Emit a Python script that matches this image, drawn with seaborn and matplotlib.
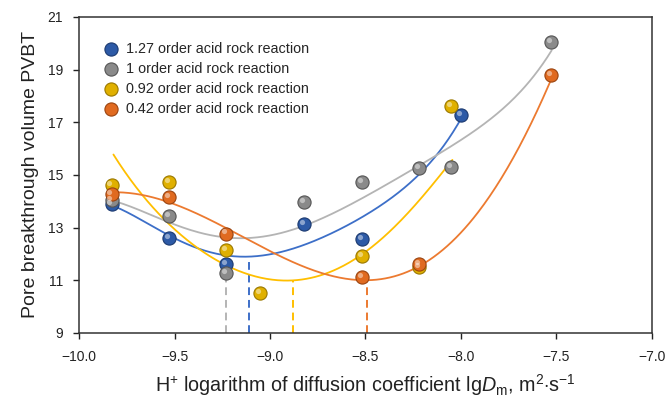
import numpy as np
import pandas as pd
import matplotlib
matplotlib.use("Agg")
import matplotlib.pyplot as plt
import seaborn as sns

# ---- data ----
series_names = ["1.27 order acid rock reaction", "1 order acid rock reaction",
                "0.92 order acid rock reaction", "0.42 order acid rock reaction"]

x_127 = [-9.83, -9.53, -9.23, -8.82, -8.52, -8.00]
y_127 = [13.88, 12.61, 11.61, 13.13, 12.55, 17.27]

x_100 = [-9.83, -9.53, -9.23, -8.82, -8.52, -8.22, -8.05, -7.53]
y_100 = [14.05, 13.42, 11.28, 13.97, 14.73, 15.26, 15.30, 20.05]

x_092 = [-9.83, -9.53, -9.23, -9.05, -8.52, -8.22, -8.05]
y_092 = [14.61, 14.71, 12.14, 10.52, 11.90, 11.50, 17.60]

x_042 = [-9.83, -9.53, -9.23, -8.52, -8.22, -7.53]
y_042 = [14.27, 14.17, 12.77, 11.13, 11.60, 18.80]

# trend curves (points along each drawn curve)
cx_127 = [-9.83, -9.65, -9.47, -9.23, -9.05, -8.95, -8.83, -8.48, -8.21, -8.07, -8.005]
cy_127 = [13.85, 13.18, 12.46, 12.02, 11.91, 11.99, 12.33, 13.60, 15.06, 16.30, 17.08]

cx_100 = [-9.83, -9.47, -9.23, -8.95, -8.83, -8.48, -8.21, -8.04, -7.80, -7.62, -7.525]
cy_100 = [14.04, 12.97, 12.71, 12.80, 12.97, 14.30, 15.25, 16.30, 17.40, 18.60, 19.81]

cx_092 = [-9.82, -9.66, -9.47, -9.23, -8.95, -8.88, -8.69, -8.49, -8.30, -8.13, -8.045]
cy_092 = [15.75, 14.23, 12.65, 11.61, 11.00, 10.98, 11.32, 12.08, 13.41, 14.80, 15.56]

cx_042 = [-9.83, -9.47, -9.23, -8.95, -8.83, -8.48, -8.21, -8.13, -7.95, -7.80, -7.62, -7.525]
cy_042 = [14.32, 13.92, 12.80, 11.95, 11.57, 11.13, 11.32, 12.08, 13.09, 14.93, 17.08, 18.67]

# minimum markers (dashed drop lines)
min_x = [-9.11, -9.23, -8.88, -8.49]
min_y = [11.79, 11.10, 11.00, 11.08]

x_ticks = [-10.0, -9.5, -9.0, -8.5, -8.0, -7.5, -7.0]
y_ticks = [9, 11, 13, 15, 17, 19, 21]

point_colors = ["#2d5aa6", "#8a8a8a", "#e0b000", "#e06a20"]
line_colors = ["#3d6fc8", "#b4b4b4", "#ffbf00", "#ec7a30"]
edge_colors = ["#1c3a70", "#555555", "#9a7800", "#9a4410"]

sns.set_theme(style="ticks")
plt.rcParams["font.family"] = ["Liberation Sans", "DejaVu Sans"]
plt.rcParams["mathtext.fontset"] = "custom"
plt.rcParams["mathtext.rm"] = "Liberation Sans"
plt.rcParams["mathtext.it"] = "Liberation Sans:italic"
plt.rcParams["axes.unicode_minus"] = True

fig = plt.figure(figsize=(6.70, 4.01), dpi=100)
ax = fig.add_axes([0.118, 0.170, 0.855, 0.788])

all_x = [x_127, x_100, x_092, x_042]
all_y = [y_127, y_100, y_092, y_042]
all_cx = [cx_127, cx_100, cx_092, cx_042]
all_cy = [cy_127, cy_100, cy_092, cy_042]

frames = []
for name, xs, ys in zip(series_names, all_x, all_y):
    frames.append(pd.DataFrame({"x": xs, "y": ys, "series": name}))
df = pd.concat(frames, ignore_index=True)

# smooth trend curves through the read curve points
curve_frames = []
for name, cxs, cys in zip(series_names, all_cx, all_cy):
    coef = np.polyfit(cxs, cys, 5)
    xx = np.linspace(min(cxs), max(cxs), 300)
    curve_frames.append(pd.DataFrame({"x": xx, "y": np.polyval(coef, xx), "series": name}))
cdf = pd.concat(curve_frames, ignore_index=True)

palette_lines = dict(zip(series_names, line_colors))
sns.lineplot(data=cdf, x="x", y="y", hue="series", palette=palette_lines,
             linewidth=1.3, legend=False, ax=ax, zorder=2, sort=False)

# dashed drop lines at minima
for mx, my, c in zip(min_x, min_y, line_colors):
    ax.plot([mx, mx], [9, my], ls=(0, (4, 2.5)), color=c, lw=1.4, zorder=1)

# points with a simple sphere look
for name, xs, ys, pc, ec in zip(series_names, all_x, all_y, point_colors, edge_colors):
    sub = df[df.series == name]
    sns.scatterplot(data=sub, x="x", y="y", color=pc, s=90, edgecolor=ec,
                    linewidth=0.8, ax=ax, zorder=3, label=name)
    ax.scatter(np.array(xs) - 0.011, np.array(ys) + 0.08, s=14, color="white",
               alpha=0.45, linewidths=0, zorder=4)

ax.set_xlim(-10.0, -7.0)
ax.set_ylim(9, 21)
ax.set_xticks(x_ticks)
ax.set_xticklabels([f"{t:.1f}".replace("-", "\u2212") for t in x_ticks])
ax.set_yticks(y_ticks)
ax.tick_params(direction="out", length=4.5, width=1, labelsize=10, colors="#222222")
ax.tick_params(axis="x", pad=8)
ax.tick_params(axis="y", pad=7)
for sp in ax.spines.values():
    sp.set_color("#333333")
    sp.set_linewidth(1.1)

ax.set_xlabel(r"H$^{+}$ logarithm of diffusion coefficient lg$D_\mathrm{m}$, m$^{2}$$\cdot$s$^{-1}$",
              fontsize=14.2, labelpad=6, color="#222222")
ax.set_ylabel("Pore breakthrough volume PVBT", fontsize=14, labelpad=6, color="#222222")

leg = ax.legend(loc="upper left", bbox_to_anchor=(0.02, 0.94), frameon=False,
                fontsize=10.4, handletextpad=0.05, labelspacing=0.42, borderaxespad=0.0,
                markerscale=1.0)

fig.savefig("out.png", dpi=100)
